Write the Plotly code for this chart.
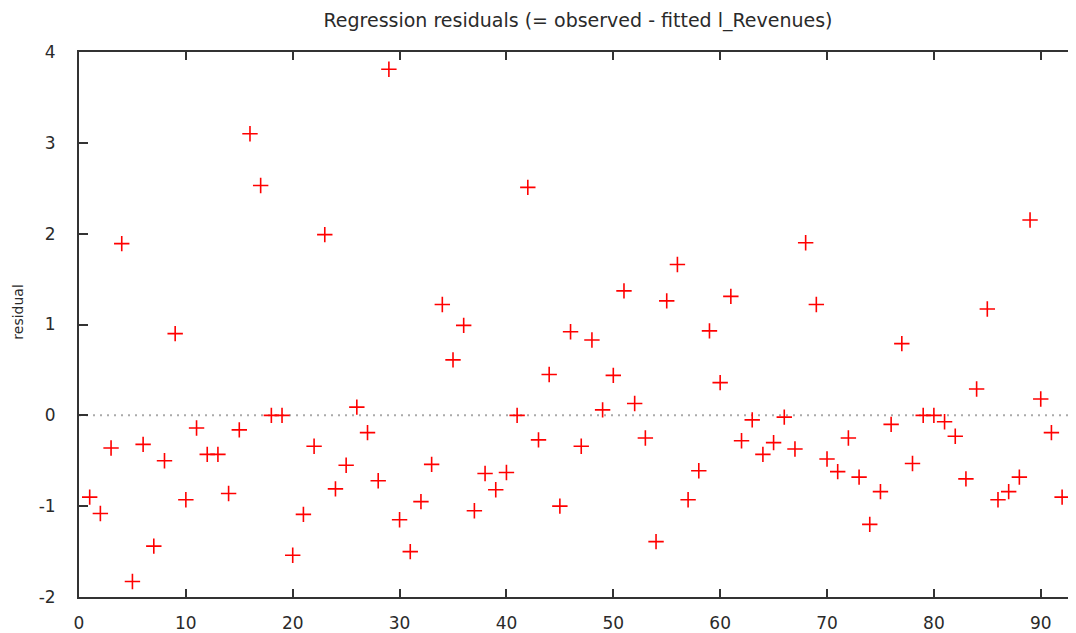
import plotly.graph_objects as go

obs = list(range(1, 93))
residuals = [
    -0.90, -1.08, -0.36, 1.89, -1.83, -0.32, -1.44, -0.50, 0.90, -0.93,
    -0.14, -0.43, -0.43, -0.86, -0.16, 3.10, 2.53, 0.00, 0.00, -1.54,
    -1.09, -0.34, 1.99, -0.81, -0.55, 0.09, -0.19, -0.72, 3.81, -1.15,
    -1.50, -0.95, -0.54, 1.22, 0.61, 0.99, -1.05, -0.64, -0.82, -0.63,
    0.00, 2.51, -0.27, 0.45, -1.00, 0.92, -0.34, 0.83, 0.06, 0.44,
    1.37, 0.13, -0.25, -1.39, 1.26, 1.66, -0.93, -0.61, 0.93, 0.36,
    1.31, -0.28, -0.05, -0.43, -0.30, -0.02, -0.37, 1.90, 1.22, -0.48,
    -0.62, -0.25, -0.68, -1.20, -0.84, -0.10, 0.79, -0.53, 0.00, 0.00,
    -0.07, -0.23, -0.70, 0.29, 1.17, -0.93, -0.84, -0.68, 2.15, 0.18,
    -0.19, -0.90,
]
x_ticks = [0, 10, 20, 30, 40, 50, 60, 70, 80, 90]
y_ticks = [-2, -1, 0, 1, 2, 3, 4]
y_tick_labels = ["-2", "-1", "0", "1", "2", "3", "4"]

title_text = "Regression residuals (= observed - fitted l_Revenues)"
y_label = "residual"

font_family = "DejaVu Sans, Verdana, sans-serif"
axis_color = "#333333"
text_color = "#2a2a2a"

# page body has an 8px margin; size the figure so it ends at the window edge
W, H = 1068, 625
L, T, B, R = 71, 44, 29, 0
plot_w = W - L - R
plot_h = H - T - B

fig = go.Figure()
fig.add_trace(go.Scatter(
    x=obs, y=residuals, mode="markers",
    marker=dict(symbol="cross-thin", size=11, color="#ff0000",
                line=dict(color="#ff0000", width=1.6)),
    showlegend=False, hoverinfo="x+y",
))

fig.add_shape(type="line", xref="paper", yref="y", x0=0, x1=1, y0=0, y1=0,
              line=dict(color="#aaaaaa", width=2, dash="2px,5px"), layer="below")

fig.update_layout(
    width=W, height=H,
    margin=dict(l=L, r=R, t=T, b=B, pad=0),
    paper_bgcolor="white", plot_bgcolor="white",
    font=dict(family=font_family, size=15, color=text_color),
    title=dict(text=title_text, x=570 / W, xanchor="center",
               y=1 - 12 / H, yanchor="middle",
               font=dict(family=font_family, size=19, color=text_color)),
    xaxis=dict(range=[0, 93.3], tickvals=x_ticks, ticks="inside", ticklen=8,
               tickwidth=2, tickcolor=axis_color, showline=True, linecolor=axis_color,
               linewidth=2, mirror="ticks", showgrid=False, zeroline=False,
               tickfont=dict(size=17), ticklabelstandoff=10),
    yaxis=dict(range=[-2, 4], tickvals=y_ticks, ticktext=y_tick_labels,
               ticks="inside", ticklen=9,
               tickwidth=2, tickcolor=axis_color, showline=True, linecolor=axis_color,
               linewidth=2, showgrid=False, zeroline=False,
               tickfont=dict(size=17), ticklabelstandoff=18),
    annotations=[dict(text=y_label, xref="paper", yref="paper",
                      x=-61 / plot_w, y=(601 - 8 - 305) / plot_h, xanchor="center",
                      yanchor="middle", textangle=-90, showarrow=False,
                      font=dict(family=font_family, size=14, color=text_color))],
)

fig.write_html("out.html")
